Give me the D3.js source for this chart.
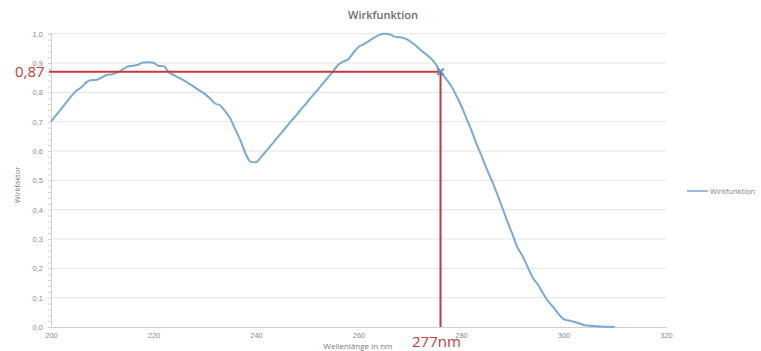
<!DOCTYPE html>
<html>
<head>
<meta charset="utf-8">
<script src="https://cdn.jsdelivr.net/npm/d3@7.9.0/dist/d3.min.js"></script>
<style>
  body { margin: 0; background: #fff; }
  svg { display: block; font-family: "Open Sans", "Liberation Sans", sans-serif; }
  .tick text { fill: #8a8a8a; font-size: 7.5px; }
</style>
</head>
<body>
<svg id="chart" width="761" height="351"></svg>
<script>
// wavelength (nm) and action factor
const wavelengths = d3.range(200, 311);
const wirkfaktor = [
  0.700, 0.722, 0.744, 0.766, 0.788, 0.806, 0.818, 0.836, 0.842, 0.843,
  0.852, 0.860, 0.862, 0.868, 0.878, 0.888, 0.891, 0.894, 0.902, 0.903,
  0.901, 0.890, 0.889, 0.868, 0.859, 0.849, 0.840, 0.829, 0.818, 0.806,
  0.795, 0.780, 0.762, 0.756, 0.735, 0.710, 0.672, 0.635, 0.590, 0.563,
  0.562, 0.580, 0.600, 0.621, 0.642, 0.663, 0.684, 0.705, 0.725, 0.746,
  0.767, 0.788, 0.808, 0.829, 0.850, 0.871, 0.893, 0.905, 0.913, 0.935,
  0.955, 0.964, 0.975, 0.986, 0.995, 1.000, 0.998, 0.990, 0.988, 0.984,
  0.975, 0.962, 0.946, 0.932, 0.918, 0.898, 0.870, 0.848, 0.824, 0.792,
  0.756, 0.714, 0.672, 0.625, 0.584, 0.540, 0.500, 0.456, 0.410, 0.362,
  0.318, 0.272, 0.242, 0.205, 0.168, 0.145, 0.115, 0.088, 0.068, 0.045,
  0.027, 0.022, 0.018, 0.013, 0.007, 0.004, 0.003, 0.002, 0.001, 0.001,
  0.000
];
const xTicks = [200, 220, 240, 260, 280, 300, 320];
const yTicks = [0, 0.1, 0.2, 0.3, 0.4, 0.5, 0.6, 0.7, 0.8, 0.9, 1.0];
const yMinorTicks = d3.range(0, 1.001, 0.02);
// highlighted reading
const markX = 276;
const markY = 0.87;
const markYLabel = "0,87";
const markXLabel = "277nm";

const data = wavelengths.map((w, i) => ({ w, v: wirkfaktor[i] }));

const svg = d3.select('#chart');
const x = d3.scaleLinear().domain([200, 320]).range([51, 666]);
const y = d3.scaleLinear().domain([0, 1]).range([327, 33.7]);
const fmt = d3.format('.1f');
const comma = (d) => fmt(d).replace('.', ',');

// horizontal gridlines
svg.append('g')
  .selectAll('line')
  .data(yTicks.filter(d => d > 0))
  .join('line')
  .attr('x1', x(200)).attr('x2', x(320))
  .attr('y1', d => y(d)).attr('y2', d => y(d))
  .attr('stroke', '#e3e3e3').attr('stroke-width', 1);

// y axis with minor ticks
const yAxisMinor = svg.append('g')
  .attr('transform', `translate(${x(200)},0)`)
  .call(d3.axisLeft(y).tickValues(yMinorTicks).tickSize(3).tickFormat(''));
yAxisMinor.selectAll('line, path').attr('stroke', '#d0d0d0');

const yAxis = svg.append('g')
  .attr('transform', `translate(${x(200)},0)`)
  .call(d3.axisLeft(y).tickValues(yTicks).tickSize(0).tickPadding(8).tickFormat(comma));
yAxis.select('.domain').remove();

// x axis
const xAxis = svg.append('g')
  .attr('transform', `translate(0,${y(0)})`)
  .call(d3.axisBottom(x).tickValues(xTicks).tickSize(0).tickPadding(6));
xAxis.select('.domain').attr('stroke', '#d0d0d0');

// titles
svg.append('text')
  .attr('x', 383).attr('y', 19)
  .attr('text-anchor', 'middle')
  .attr('font-size', 11).attr('font-weight', 600).attr('fill', '#6b6b6b')
  .text('Wirkfunktion');

svg.append('text')
  .attr('x', 358).attr('y', 349)
  .attr('text-anchor', 'middle')
  .attr('font-size', 8).attr('fill', '#7a7a7a')
  .text('Wellenlänge in nm');

svg.append('text')
  .attr('transform', 'translate(20,185) rotate(-90)')
  .attr('text-anchor', 'middle')
  .attr('font-size', 7.5).attr('fill', '#7a7a7a')
  .text('Wirkfaktor');

// curve
const line = d3.line().x(d => x(d.w)).y(d => y(d.v)).curve(d3.curveMonotoneX);
svg.append('path')
  .datum(data)
  .attr('d', line)
  .attr('fill', 'none')
  .attr('stroke', '#7aa9d6')
  .attr('stroke-width', 2);

// red reading lines
const red = '#c5393b';
svg.append('line')
  .attr('x1', x(200) - 2).attr('x2', x(markX))
  .attr('y1', y(markY)).attr('y2', y(markY))
  .attr('stroke', red).attr('stroke-width', 2);
svg.append('line')
  .attr('x1', x(markX)).attr('x2', x(markX))
  .attr('y1', y(markY)).attr('y2', y(0))
  .attr('stroke', red).attr('stroke-width', 2);

// marker
svg.append('path')
  .attr('transform', `translate(${x(markX)},${y(markY)})`)
  .attr('d', d3.symbol(d3.symbolX, 30))
  .attr('fill', 'none')
  .attr('stroke', '#5b8ecb')
  .attr('stroke-width', 2);

svg.append('text')
  .attr('x', 15).attr('y', y(markY) + 5)
  .attr('font-size', 15).attr('fill', red)
  .text(markYLabel);

svg.append('text')
  .attr('x', 412).attr('y', 347)
  .attr('font-size', 15).attr('fill', red)
  .text(markXLabel);

// legend
const legend = svg.append('g').attr('transform', 'translate(687,191)');
legend.append('line')
  .attr('x1', 0).attr('x2', 21)
  .attr('stroke', '#7aa9d6').attr('stroke-width', 1.5);
legend.append('text')
  .attr('x', 23).attr('y', 3)
  .attr('font-size', 7.5).attr('fill', '#7a7a7a')
  .text('Wirkfunktion');
</script>
</body>
</html>
